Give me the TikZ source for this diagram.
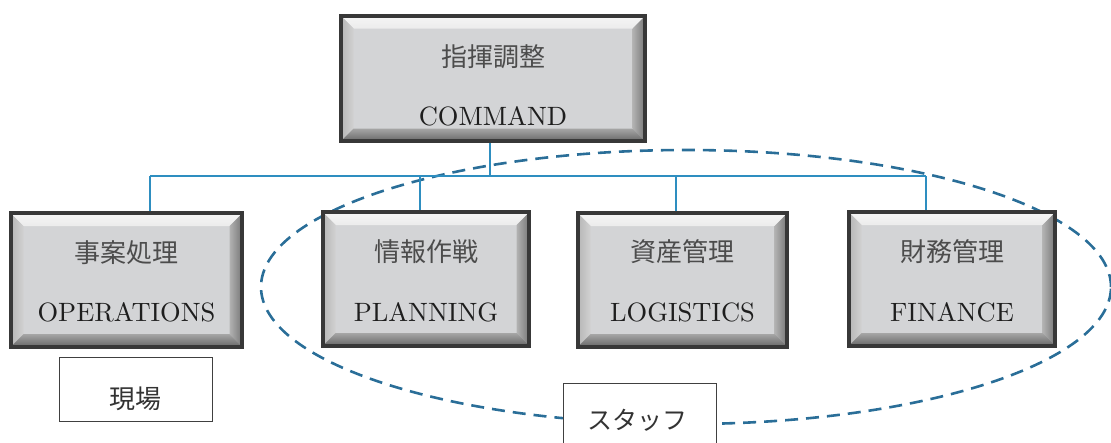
\documentclass[tikz,border=0pt]{standalone}
\usepackage{fontspec}
\setmainfont{lmroman10-regular.otf}
\newfontfamily\jp{Noto Sans CJK JP}
\definecolor{face}{HTML}{D3D4D6}
\definecolor{boxline}{HTML}{383838}
\definecolor{conncol}{HTML}{2E8EC0}
\definecolor{ellcol}{HTML}{2A6E98}
\definecolor{txt}{HTML}{1E1E1E}
\newlength{\bw}\setlength{\bw}{12pt}
\tikzset{
  bevelbox/.style={rectangle, draw=boxline, line width=2.6pt, fill=face, inner sep=0pt,
    path picture={
      \path (path picture bounding box.south west) coordinate (@sw)
            (path picture bounding box.north east) coordinate (@ne)
            (path picture bounding box.north west) coordinate (@nw)
            (path picture bounding box.south east) coordinate (@se);
      % top bevel
      \shade[top color=white!92!gray, bottom color=white!85!gray]
        (@nw) -- (@ne) -- ([shift={(-\bw,-\bw)}]@ne) -- ([shift={(\bw,-\bw)}]@nw) -- cycle;
      % left bevel
      \shade[left color=black!28, right color=black!18]
        (@nw) -- ([shift={(\bw,-\bw)}]@nw) -- ([shift={(\bw,\bw)}]@sw) -- (@sw) -- cycle;
      % right bevel
      \shade[left color=black!30, right color=black!52]
        (@ne) -- (@se) -- ([shift={(-\bw,\bw)}]@se) -- ([shift={(-\bw,-\bw)}]@ne) -- cycle;
      % bottom bevel
      \shade[top color=black!35, bottom color=black!58]
        (@sw) -- ([shift={(\bw,\bw)}]@sw) -- ([shift={(-\bw,\bw)}]@se) -- (@se) -- cycle;
    }},
  entext/.style={text=txt, anchor=base, inner sep=0pt, font=\fontsize{26.5}{30}\selectfont},
  jptext/.style={text=black!70, anchor=center, inner sep=0pt, font=\jp\fontsize{26}{30}\selectfont},
  conn/.style={draw=conncol, line width=1.8pt},
  ell/.style={draw=ellcol, line width=2.6pt, dash pattern=on 13pt off 8pt},
  tagbox/.style={rectangle, draw=black!75, line width=1pt, fill=white, inner sep=0pt}
}
\begin{document}
\begin{tikzpicture}[x=1pt,y=-1pt]
\path[use as bounding box, clip] (0,0) rectangle (1111,442);

% staff ellipse
\draw[ell] (686,287) ellipse [x radius=425pt, y radius=137pt];

% bus
\coordinate (busL) at (150,176);
\coordinate (busR) at (926,176);

% boxes
\node[bevelbox, minimum width=303pt, minimum height=124pt] (cmd) at (493,78.5) {};
\node[bevelbox, minimum width=230pt, minimum height=132pt] (op)  at (126.5,280) {};
\node[bevelbox, minimum width=205pt, minimum height=132pt] (pl)  at (426,279) {};
\node[bevelbox, minimum width=208pt, minimum height=132pt] (lg)  at (682.5,280) {};
\node[bevelbox, minimum width=205pt, minimum height=132pt] (fin) at (952,279) {};

% connectors
\draw[conn] (busL) -- (busR);
\draw[conn] ([xshift=-3pt]cmd.south) -- ([xshift=-3pt]cmd.south |- busL);
\draw[conn] (busL) -- ([xshift=23.5pt]op.north);
\draw[conn] ([xshift=-6pt]pl.north |- busL) -- ([xshift=-6pt]pl.north);
\draw[conn] ([xshift=-6.5pt]lg.north |- busL) -- ([xshift=-6.5pt]lg.north);
\draw[conn] (busR) -- ([xshift=-26pt]fin.north);

% redraw box borders over connector ends
\foreach \b in {cmd,op,pl,lg,fin}{
  \draw[boxline, line width=2.6pt] (\b.north west) rectangle (\b.south east);
}

% texts
\node[jptext] (cmdjp) at (493,57) {指揮調整};
\node[entext] (cmden) at (493,125) {COMMAND};
\node[jptext] (opjp) at (126.5,253) {事案処理};
\node[entext] (open) at (126.5,321) {OPERATIONS};
\node[jptext] (pljp) at (426,252) {情報作戦};
\node[entext] (plen) at (426,321) {PLANNING};
\node[jptext] (lgjp) at (682.5,252) {資産管理};
\node[entext] (lgen) at (682.5,321) {LOGISTICS};
\node[jptext] (finjp) at (952,252) {財務管理};
\node[entext] (finen) at (952,321) {FINANCE};

% tag boxes
\node[tagbox, minimum width=153pt, minimum height=64pt] (genba) at (135.5,389) {};
\node[jptext, text=black!80] (genbat) at (135.5,399) {現場};
\node[tagbox, minimum width=153pt, minimum height=80pt] (staff) at (639.5,423) {};
\node[jptext, text=black!80, font=\jp\fontsize{25}{30}\selectfont] (stafft) at (637,420) {スタッフ};
\end{tikzpicture}
\end{document}
